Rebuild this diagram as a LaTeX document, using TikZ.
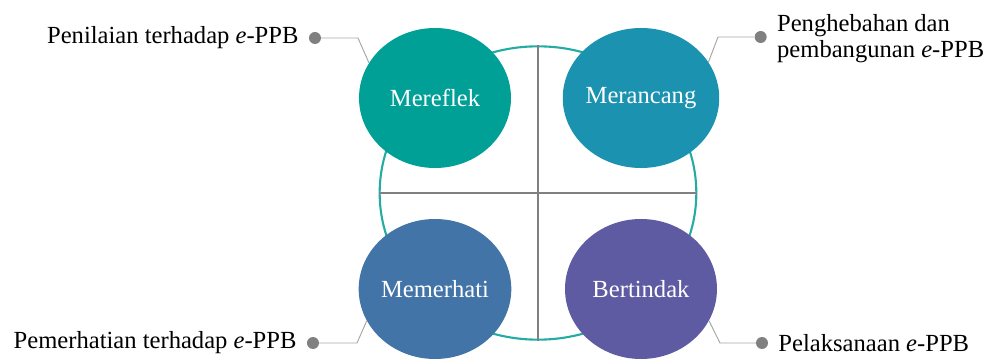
\documentclass[tikz,border=0pt]{standalone}
\usepackage{fontspec}
\setmainfont{Liberation Serif}
\usepackage{tikz}
\usetikzlibrary{shapes.geometric, positioning}
\definecolor{reflekcol}{RGB}{0,160,151}
\definecolor{rancangcol}{RGB}{26,146,176}
\definecolor{perhaticol}{RGB}{66,116,168}
\definecolor{tindakcol}{RGB}{94,91,163}
\definecolor{ringcol}{RGB}{36,172,162}
\tikzstyle{phase}  = [ellipse, minimum width=4.56cm, minimum height=4.2cm, inner sep=0pt, text=white, font=\fontsize{21}{25}\selectfont]
\tikzstyle{dot}    = [circle, fill=gray, inner sep=0pt, minimum size=0.36cm]
\tikzstyle{leader} = [draw=gray!70, line width=0.8pt]
\tikzstyle{note}   = [inner sep=0pt, font=\fontsize{21}{22.5}\selectfont]
\tikzset{every node/.style={align=center}}

\begin{document}
\begin{tikzpicture}
    \useasboundingbox (-16.14,-4.98) rectangle (13.5,5.79);

    % outer ring and cross
    \node (ring) at (0,0) [ellipse, draw=ringcol, line width=1.8pt, minimum width=9.5cm, minimum height=8.8cm] {};
    \draw [gray, line width=0.9pt] (ring.north) -- (ring.south);
    \draw [gray, line width=0.9pt] (ring.west)  -- (ring.east);

    % four phases
    \node (mereflek)  at (-3.09, 2.85) [phase, fill=reflekcol]  {Mereflek};
    \node (merancang) at ( 3.09, 2.85) [phase, fill=rancangcol] {Merancang};
    \node (memerhati) at (-3.09,-2.88) [phase, fill=perhaticol] {Memerhati};
    \node (bertindak) at ( 3.09,-2.88) [phase, fill=tindakcol]  {Bertindak};

    % callouts
    \node (dotTL) at (-6.69, 4.65) [dot] {};
    \node (dotTR) at ( 6.68, 4.68) [dot] {};
    \node (dotBL) at (-6.75,-4.50) [dot] {};
    \node (dotBR) at ( 6.72,-4.50) [dot] {};
    \coordinate (bendTL) at (-5.40, 4.65);
    \coordinate (bendTR) at ( 5.40, 4.68);
    \coordinate (bendBL) at (-5.43,-4.50);
    \coordinate (bendBR) at ( 5.46,-4.50);

    \draw [leader] (dotTL) -- (bendTL) -- (mereflek.152);
    \draw [leader] (dotTR) -- (bendTR) -- (merancang.28);
    \draw [leader] (dotBL) -- (bendBL) -- (memerhati.205);
    \draw [leader] (dotBR) -- (bendBR) -- (bertindak.-25);

    \node (nilai)  [note, left=0.3cm of dotTL]  {Penilaian terhadap \textit{e}-PPB};
    \node (hebah)  [note, right=0.3cm of dotTR, align=left, yshift=-0.05cm] {Penghebahan dan\\pembangunan \textit{e}-PPB};
    \node (perhati) [note, left=0.3cm of dotBL] {Pemerhatian terhadap \textit{e}-PPB};
    \node (laksana) [note, right=0.3cm of dotBR] {Pelaksanaan \textit{e}-PPB};
\end{tikzpicture}
\end{document}
